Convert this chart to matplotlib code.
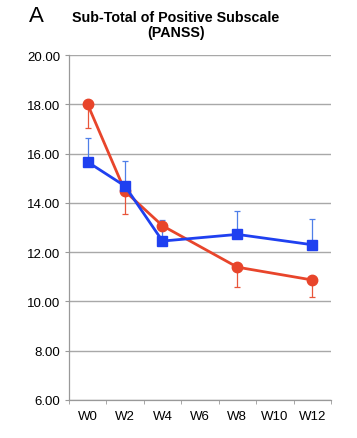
import matplotlib
matplotlib.use("Agg")
import matplotlib.pyplot as plt
import numpy as np

plt.rcParams['font.family'] = ['Liberation Sans', 'DejaVu Sans']

categories = ["W0", "W2", "W4", "W6", "W8", "W10", "W12"]
red_idx = [0, 1, 2, 4, 6]
red_vals = [18.0, 14.47, 13.07, 11.39, 10.87]
red_err_down = [0.98, 0.92, 0.05, 0.80, 0.68]
blue_idx = [0, 1, 2, 4, 6]
blue_vals = [15.66, 14.68, 12.45, 12.72, 12.30]
blue_err_up = [0.99, 1.02, 0.85, 0.93, 1.05]

red = "#E8452B"
blue = "#1F40F0"
red_err_c = "#E8553A"
blue_err_c = "#4F7FE8"

fig = plt.figure(figsize=(3.57, 4.39), dpi=100)
ax = fig.add_axes([0.193, 0.0866, 0.734, 0.7858])

ax.set_xlim(-0.5, len(categories) - 0.5)
ax.set_ylim(6, 20)
ax.set_yticks(np.arange(6, 20.01, 2))
ax.set_yticklabels([f"{v:.2f}" for v in np.arange(6, 20.01, 2)], fontsize=9.5)
ax.set_xticks(range(len(categories)))
ax.set_xticklabels(categories, fontsize=9.5)
ax.set_xticks(np.arange(-0.5, len(categories), 1), minor=True)
ax.tick_params(axis='x', which='major', length=0, pad=7)
ax.tick_params(axis='x', which='minor', length=3, color="#999999")
ax.tick_params(axis='y', length=3, color="#999999", pad=3)

ax.yaxis.grid(True, color="#A8A8A8", linewidth=1.0)
ax.set_axisbelow(True)
for s in ["top", "right"]:
    ax.spines[s].set_visible(False)
for s in ["left", "bottom"]:
    ax.spines[s].set_color("#999999")
    ax.spines[s].set_linewidth(0.9)

ax.errorbar(blue_idx, blue_vals, yerr=[np.zeros(len(blue_vals)), blue_err_up],
            fmt='none', ecolor=blue_err_c, elinewidth=0.9, capsize=2.5, capthick=0.9, zorder=3)
ax.errorbar(red_idx, red_vals, yerr=[red_err_down, np.zeros(len(red_vals))],
            fmt='none', ecolor=red_err_c, elinewidth=0.9, capsize=2.5, capthick=0.9, zorder=3)
ax.plot(red_idx, red_vals, color=red, marker='o', markersize=7.5, linewidth=2.0, zorder=4, clip_on=False)
ax.plot(blue_idx, blue_vals, color=blue, marker='s', markersize=7.5, linewidth=2.0, zorder=5, clip_on=False)

fig.text(0.082, 0.962, "A", fontsize=16, ha='left', va='center')
fig.text(0.493, 0.959, "Sub-Total of Positive Subscale", fontsize=10.3, fontweight='bold', ha='center', va='center')
fig.text(0.493, 0.924, "(PANSS)", fontsize=10.3, fontweight='bold', ha='center', va='center')

fig.savefig("out.png", dpi=100)
